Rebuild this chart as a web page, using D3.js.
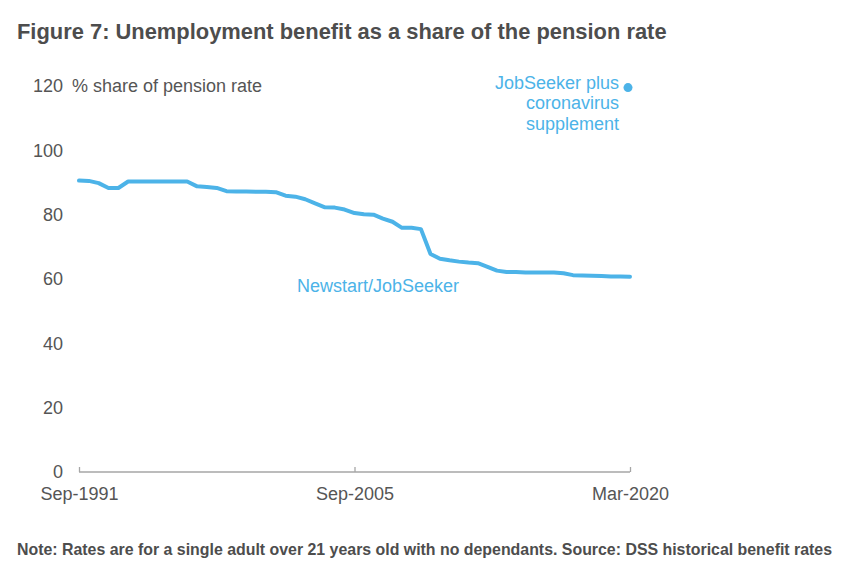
<!DOCTYPE html>
<html><head><meta charset="utf-8">
<script src="https://cdn.jsdelivr.net/npm/d3@7"></script>
<style>body{margin:0;background:#fff;}svg{display:block;font-family:"Liberation Sans",Arial,sans-serif;}</style>
</head><body><svg id="c" width="858" height="573"></svg>
<script>
// Semiannual observations, Sep-1991 to Mar-2020
const startDate = "1991-09-01";
const newstart = [
  90.6, 90.5, 89.8, 88.3, 88.3, 90.3, 90.3, 90.3, 90.3, 90.3,
  90.3, 90.3, 88.8, 88.6, 88.3, 87.3, 87.2, 87.2, 87.1, 87.1,
  87.0, 85.9, 85.6, 84.8, 83.5, 82.3, 82.2, 81.6, 80.5, 80.1,
  80.0, 78.8, 77.8, 75.9, 75.9, 75.5, 67.8, 66.3, 65.8, 65.4,
  65.1, 64.9, 63.8, 62.6, 62.2, 62.2, 62.0, 62.0, 62.0, 62.0,
  61.8, 61.2, 61.1, 61.0, 60.9, 60.8, 60.8, 60.7
];
const supplementDate = "2020-03-01";
const supplementValue = 119.5;
const xTickDates = ["1991-09-01", "2005-09-01", "2020-03-01"];
const yTicks = [0, 20, 40, 60, 80, 100, 120];
const title = "Figure 7: Unemployment benefit as a share of the pension rate";
const note = "Note: Rates are for a single adult over 21 years old with no dependants. Source: DSS historical benefit rates";

const parse = d3.timeParse("%Y-%m-%d");
const fmt = d3.timeFormat("%b-%Y");
const dates = newstart.map((v, i) => d3.timeMonth.offset(parse(startDate), 6 * i));
const data = newstart.map((v, i) => ({date: dates[i], value: v}));

const svg = d3.select("#c");
const blue = "#4cb3e8";
const grey = "#555555";
const ff = "Liberation Sans, Arial, sans-serif";

const xTicks = xTickDates.map(parse);
const x = d3.scaleTime().domain(xTicks).range([79, 354.5, 630]);
const y = d3.scaleLinear().domain([0, 120]).range([472, 86]);

svg.append("text").attr("x", 17).attr("y", 39)
  .attr("font-size", 21.9).attr("font-weight", "bold").attr("fill", "#4d4d4d")
  .text(title);

const yAxis = svg.append("g").attr("transform", "translate(63,0)")
  .call(d3.axisLeft(y).tickValues(yTicks).tickSize(0).tickPadding(0));
yAxis.select(".domain").remove();
yAxis.selectAll("text").attr("font-size", 18).attr("fill", grey).attr("font-family", ff);

svg.append("text").attr("x", 72).attr("y", y(120)).attr("dy", "0.32em")
  .attr("font-size", 18).attr("fill", grey).text("% share of pension rate");

const xAxis = svg.append("g").attr("transform", `translate(0,${y(0)})`)
  .call(d3.axisTop(x).tickValues(xTicks).tickSize(5).tickFormat(fmt));
xAxis.select(".domain").attr("stroke", "#a6a6a6").attr("stroke-width", 1.3)
  .attr("d", `M${x(xTicks[0])},0H${x(xTicks[2])}`);
xAxis.selectAll(".tick line").attr("stroke", "#a6a6a6").attr("stroke-width", 1.3);
xAxis.selectAll("text").attr("y", 22).attr("dy", "0.32em").attr("font-size", 18)
  .attr("fill", grey).attr("font-family", ff);

const line = d3.line().x(d => x(d.date)).y(d => y(d.value));
svg.append("path").datum(data).attr("d", line)
  .attr("fill", "none").attr("stroke", blue).attr("stroke-width", 4)
  .attr("stroke-linejoin", "round").attr("stroke-linecap", "round");

svg.append("circle").attr("cx", x(parse(supplementDate)) - 2).attr("cy", y(supplementValue))
  .attr("r", 4.5).attr("fill", blue);

svg.append("text").attr("x", 297).attr("y", 286).attr("dy", "0.32em")
  .attr("font-size", 18).attr("fill", blue).text("Newstart/JobSeeker");

const lbl = svg.append("text").attr("text-anchor", "end").attr("font-size", 18).attr("fill", blue);
["JobSeeker plus", "coronavirus", "supplement"].forEach((t, i) => {
  lbl.append("tspan").attr("x", 619).attr("y", 83 + i * 20.5).attr("dy", "0.32em").text(t);
});

svg.append("text").attr("x", 17).attr("y", 555)
  .attr("font-size", 15.9).attr("font-weight", "bold").attr("fill", "#4d4d4d")
  .text(note);
</script></body></html>
